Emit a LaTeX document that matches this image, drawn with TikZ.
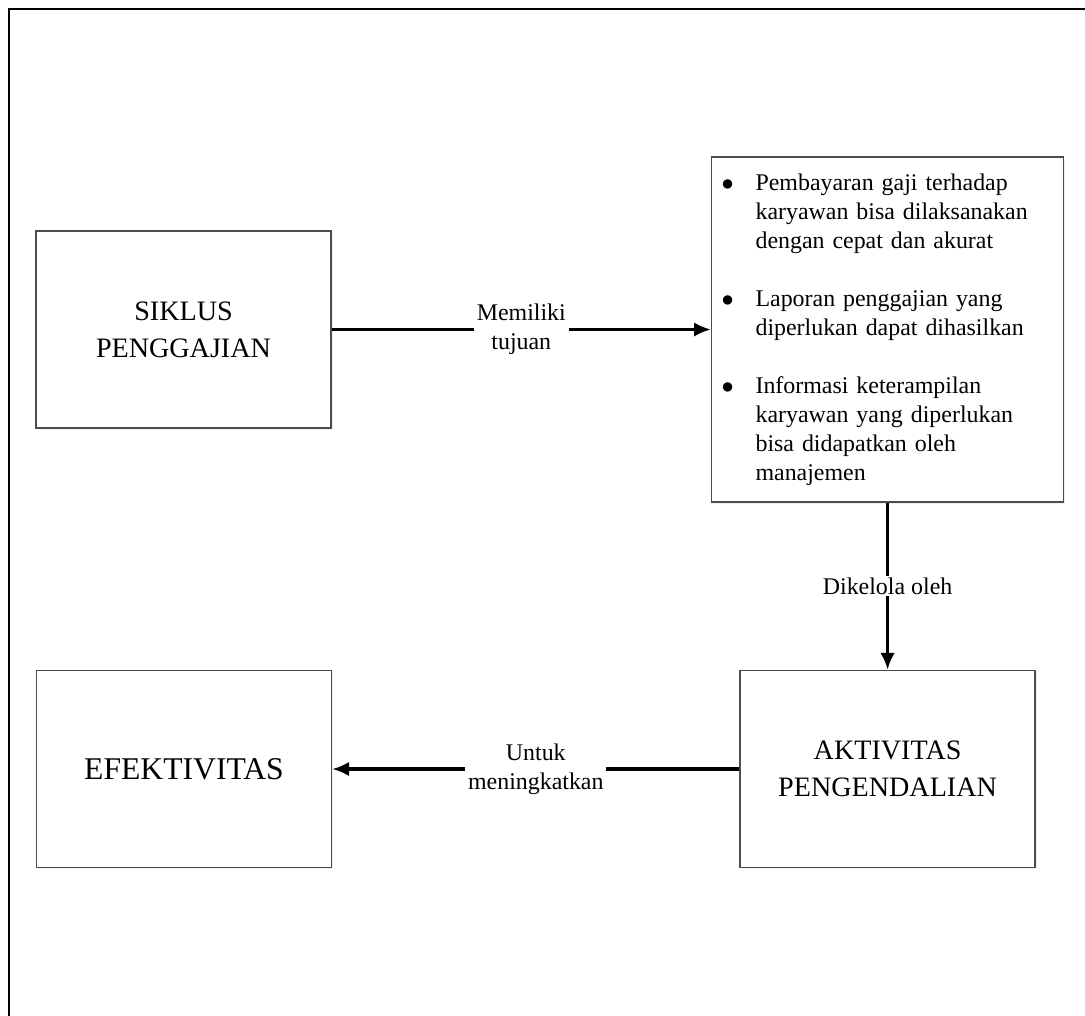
\documentclass[tikz,border=0pt]{standalone}
\usepackage{fontspec}
\setmainfont{Liberation Serif}
\usepackage{tikz}
\usetikzlibrary{arrows.meta, positioning, shadows}

\begin{document}
\begin{tikzpicture}[
    x=0.025cm,
    y=-0.025cm,
    box/.style={
        rectangle,
        draw=black!70,
        fill=white,
        line width=1pt,
        drop shadow={opacity=0.12, shadow xshift=1.2pt, shadow yshift=-1.2pt},
        align=center,
        minimum width=7.375cm,
        minimum height=4.925cm,
        font=\fontsize{20pt}{26.2pt}\selectfont
    },
    goalbox/.style={
        box,
        minimum width=8.8cm,
        minimum height=8.625cm,
        text width=8.3cm,
        inner xsep=0.25cm,
        align=left,
        font=\fontsize{17pt}{20.6pt}\selectfont
    },
    arrow/.style={
        -{Latex[length=0.42cm, width=0.36cm]},
        line width=2.2pt
    },
    arrowtext/.style={
        fill=white,
        align=center,
        inner xsep=2pt,
        inner ysep=1pt,
        font=\fontsize{17pt}{20.6pt}\selectfont
    }
]

\useasboundingbox (0,0) rectangle (1085,1016);

% outer frame
\draw[line width=1.2pt] (9,1016) -- (9,9) -- (1085,9);

\node[box] (siklus) at (183.5,329.5) {SIKLUS\\PENGGAJIAN};

\node[goalbox, right=9.475cm of siklus] (tujuan) {\noindent
\begin{tabular}{@{}p{0.85cm}@{}l@{}}
$\bullet$ & Pembayaran gaji terhadap\\
 & karyawan bisa dilaksanakan\\
 & dengan cepat dan akurat\\
 & \\
$\bullet$ & Laporan penggajian yang\\
 & diperlukan dapat dihasilkan\\
 & \\
$\bullet$ & Informasi keterampilan\\
 & karyawan yang diperlukan\\
 & bisa didapatkan oleh\\
 & manajemen
\end{tabular}};

\node[box, below=4.175cm of tujuan] (aktivitas)
{AKTIVITAS\\PENGENDALIAN};

\node[box, left=10.175cm of aktivitas,
    font=\fontsize{22.5pt}{28pt}\selectfont] (efektivitas)
{EFEKTIVITAS};

\draw[arrow] (siklus) -- node[arrowtext] {Memiliki\\tujuan} (tujuan);
\draw[arrow] (tujuan) -- node[arrowtext] {Dikelola oleh} (aktivitas);
\draw[arrow] (aktivitas) -- node[arrowtext] {Untuk\\meningkatkan} (efektivitas);

\end{tikzpicture}
\end{document}
